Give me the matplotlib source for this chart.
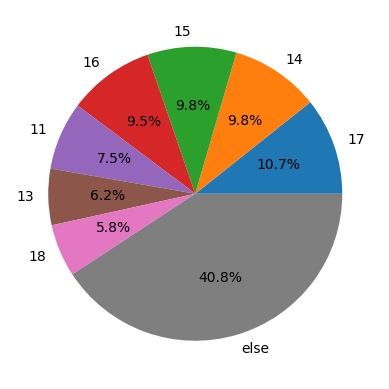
import matplotlib
matplotlib.use("Agg")
import matplotlib.pyplot as plt

labels = ["17", "14", "15", "16", "11", "13", "18", "else"]
values = [10.7, 9.8, 9.8, 9.5, 7.5, 6.2, 5.8, 40.8]

fig = plt.figure(figsize=(3.89, 3.89), dpi=100)
ax = fig.add_axes([11.5 / 389, 11.5 / 389, 367.5 / 389, 367.5 / 389])
ax.pie(values, labels=labels, autopct="%1.1f%%")
fig.savefig("out.png", dpi=100)
